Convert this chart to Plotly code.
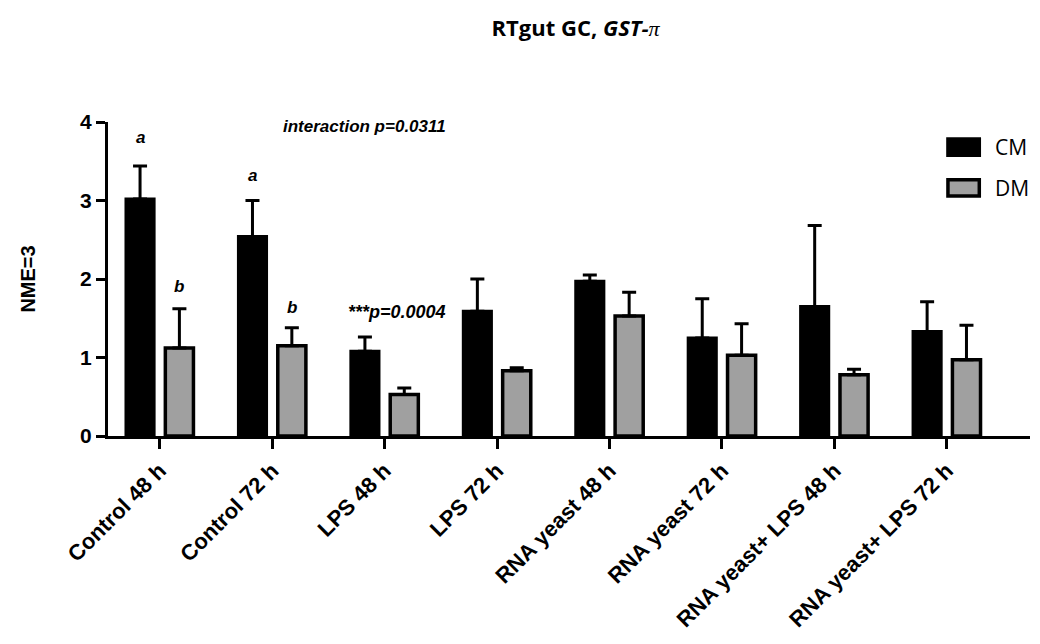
import plotly.graph_objects as go

categories = ["Control 48 h", "Control 72 h", "LPS 48 h", "LPS 72 h",
              "RNA yeast 48 h", "RNA yeast 72 h", "RNA yeast+ LPS 48 h", "RNA yeast+ LPS 72 h"]
cm_mean = [3.02, 2.54, 1.08, 1.59, 1.97, 1.25, 1.65, 1.33]
cm_err = [0.42, 0.46, 0.18, 0.41, 0.08, 0.50, 1.03, 0.38]
dm_mean = [1.12, 1.15, 0.53, 0.83, 1.53, 1.03, 0.78, 0.97]
dm_err = [0.50, 0.23, 0.08, 0.04, 0.30, 0.40, 0.07, 0.44]
letters = [("a", 0, -0.175, 3.80), ("b", 0, 0.175, 1.90), ("a", 1, -0.175, 3.32), ("b", 1, 0.175, 1.64)]

xs = list(range(len(categories)))
fig = go.Figure()
fig.add_trace(go.Bar(
    x=xs, y=cm_mean, name="CM", width=0.25, offset=-0.30,
    marker=dict(color="black", line=dict(color="black", width=3)),
    error_y=dict(type="data", symmetric=False, array=cm_err, arrayminus=[0]*8,
                 color="black", thickness=3, width=7),
))
fig.add_trace(go.Bar(
    x=xs, y=dm_mean, name="DM", width=0.25, offset=0.05,
    marker=dict(color="#a0a0a0", line=dict(color="black", width=3.5)),
    error_y=dict(type="data", symmetric=False, array=dm_err, arrayminus=[0]*8,
                 color="black", thickness=3, width=7),
))

ann_font = dict(family="Liberation Sans, Arial", size=17, color="black")
for txt, ci, off, yv in letters:
    fig.add_annotation(x=ci + off, y=yv, text=f"<b><i>{txt}</i></b>", showarrow=False, font=ann_font)
fig.add_annotation(x=1.82, y=3.94, text="<b><i>interaction p=0.0311</i></b>", showarrow=False, font=ann_font)
fig.add_annotation(x=2.11, y=1.58, text="<b><i>***p=0.0004</i></b>", showarrow=False,
                   font=dict(family="Liberation Sans, Arial", size=18, color="black"))

# custom legend
leg = [("CM", "black", 0.920), ("DM", "#a0a0a0", 0.790)]
for name, col, yy in leg:
    fig.add_shape(type="rect", xref="paper", yref="paper", x0=0.911, x1=0.945, y0=yy - 0.026, y1=yy + 0.026,
                  fillcolor=col, line=dict(color="black", width=3.5))
    fig.add_annotation(xref="paper", yref="paper", x=0.960, y=yy, text=name, showarrow=False, xanchor="left",
                       yanchor="middle", font=dict(family="Open Sans, Liberation Sans", size=21, color="black"))

fig.update_layout(
    width=1032, height=636,
    plot_bgcolor="white", paper_bgcolor="white",
    margin=dict(l=100, r=10, t=114, b=208),
    showlegend=False,
    title=dict(text="<b>RTgut GC, <i>GST-</i></b><span style='font-family:Liberation Serif'><i>π</i></span>",
               x=0.55, xanchor="center", y=0.968, yanchor="middle",
               font=dict(family="Open Sans, Liberation Sans", size=22, color="black")),
    xaxis=dict(range=[-0.46, 7.74], tickmode="array", tickvals=xs, ticktext=[f"<b>{c}</b>" for c in categories],
               tickangle=-45, ticks="outside", ticklen=10, tickwidth=3, tickcolor="black",
               showline=True, linecolor="black", linewidth=3, showgrid=False, zeroline=False,
               tickfont=dict(family="Liberation Sans, Arial", size=22, color="black")),
    yaxis=dict(range=[0, 4], tickvals=[0, 1, 2, 3, 4], ticktext=["<b>0</b>", "<b>1</b>", "<b>2</b>", "<b>3</b>", "<b>4</b>"],
               ticks="outside", ticklen=9, tickwidth=3, tickcolor="black",
               showline=True, linecolor="black", linewidth=3, showgrid=False, zeroline=False,
               tickfont=dict(family="Liberation Sans, Arial", size=21, color="black"),
               title=dict(text="<b>NME=3</b>", standoff=40,
                          font=dict(family="Liberation Sans, Arial", size=20, color="black"))),
)
fig.write_html("out.html")
